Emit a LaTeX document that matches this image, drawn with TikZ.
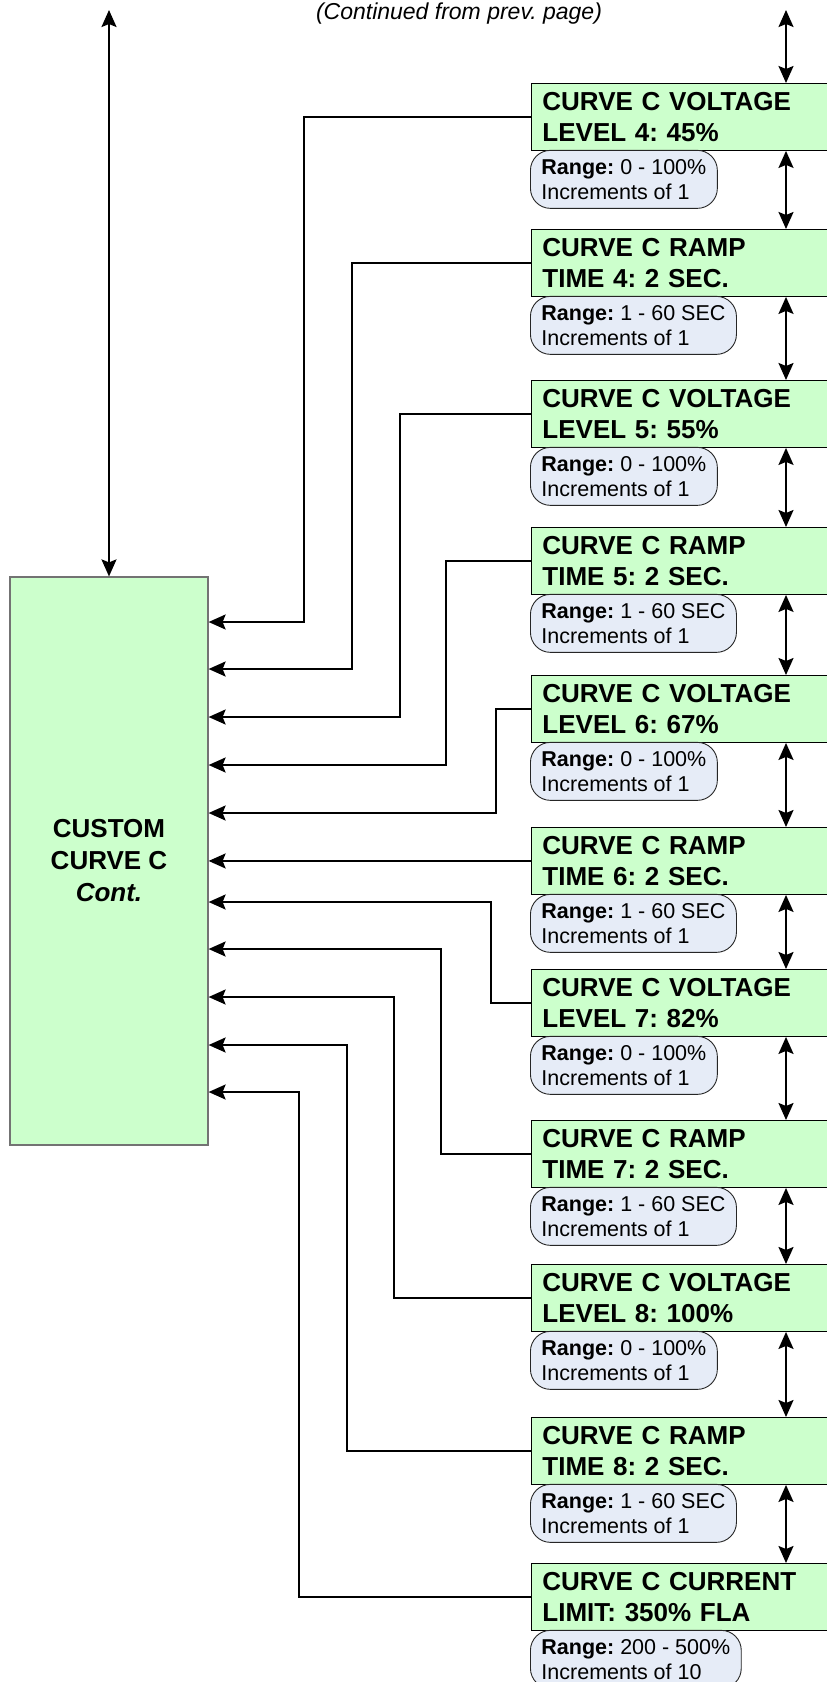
\documentclass[tikz,border=0pt]{standalone}
\usepackage{fontspec}
\setmainfont{Liberation Sans}
\usetikzlibrary{arrows.meta}
\definecolor{boxgreen}{HTML}{CCFFCC}
\definecolor{rangeblue}{HTML}{E6ECF7}
\frenchspacing

\begin{document}
\begin{tikzpicture}[
        x=1pt, y=-1pt,
        >={Stealth[length=17pt,width=15pt,inset=3pt]},
        setbox/.style={rectangle, draw=black, line width=0.9pt, fill=boxgreen, anchor=north west,
            text width=278pt, inner xsep=11pt, inner ysep=0pt, minimum height=67pt, align=left,
            font=\bfseries\fontsize{26}{31}\selectfont},
        rangebox/.style={rectangle, rounded corners=20pt, draw=black!85, line width=0.9pt, fill=rangeblue,
            anchor=north west, inner xsep=11pt, inner ysep=0pt, minimum height=58pt, align=left,
            font=\fontsize{21.5}{25}\selectfont},
        mainbox/.style={rectangle, draw=black!55, line width=1.2pt, fill=boxgreen,
            minimum width=198pt, minimum height=568pt, align=center,
            font=\bfseries\fontsize{26}{32}\selectfont},
        conn/.style={draw, line width=2pt, ->},
        updown/.style={draw, line width=2pt, <->}
        ]
        \useasboundingbox (0,0) rectangle (827,1682);

        \node[font=\itshape\fontsize{23}{27}\selectfont, inner sep=0pt] (cont) at (459,14) {(Continued from prev. page)};

        \node[mainbox] (cb) at (109,861) {CUSTOM\\CURVE C\\\textit{Cont.}};

        \node[setbox] (b1) at (531,83) {CURVE C VOLTAGE\\LEVEL 4: 45\%};
        \node[rangebox] (r1) at ([xshift=-1pt,yshift=1pt]b1.south west) {\textbf{Range:} 0 - 100\%\\Increments of 1};
        \node[setbox] (b2) at (531,229) {CURVE C RAMP\\TIME 4: 2 SEC.};
        \node[rangebox] (r2) at ([xshift=-1pt,yshift=1pt]b2.south west) {\textbf{Range:} 1 - 60 SEC\\Increments of 1};
        \node[setbox] (b3) at (531,380) {CURVE C VOLTAGE\\LEVEL 5: 55\%};
        \node[rangebox] (r3) at ([xshift=-1pt,yshift=1pt]b3.south west) {\textbf{Range:} 0 - 100\%\\Increments of 1};
        \node[setbox] (b4) at (531,527) {CURVE C RAMP\\TIME 5: 2 SEC.};
        \node[rangebox] (r4) at ([xshift=-1pt,yshift=1pt]b4.south west) {\textbf{Range:} 1 - 60 SEC\\Increments of 1};
        \node[setbox] (b5) at (531,675) {CURVE C VOLTAGE\\LEVEL 6: 67\%};
        \node[rangebox] (r5) at ([xshift=-1pt,yshift=1pt]b5.south west) {\textbf{Range:} 0 - 100\%\\Increments of 1};
        \node[setbox] (b6) at (531,827) {CURVE C RAMP\\TIME 6: 2 SEC.};
        \node[rangebox] (r6) at ([xshift=-1pt,yshift=1pt]b6.south west) {\textbf{Range:} 1 - 60 SEC\\Increments of 1};
        \node[setbox] (b7) at (531,969) {CURVE C VOLTAGE\\LEVEL 7: 82\%};
        \node[rangebox] (r7) at ([xshift=-1pt,yshift=1pt]b7.south west) {\textbf{Range:} 0 - 100\%\\Increments of 1};
        \node[setbox] (b8) at (531,1120) {CURVE C RAMP\\TIME 7: 2 SEC.};
        \node[rangebox] (r8) at ([xshift=-1pt,yshift=1pt]b8.south west) {\textbf{Range:} 1 - 60 SEC\\Increments of 1};
        \node[setbox] (b9) at (531,1264) {CURVE C VOLTAGE\\LEVEL 8: 100\%};
        \node[rangebox] (r9) at ([xshift=-1pt,yshift=1pt]b9.south west) {\textbf{Range:} 0 - 100\%\\Increments of 1};
        \node[setbox] (b10) at (531,1417) {CURVE C RAMP\\TIME 8: 2 SEC.};
        \node[rangebox] (r10) at ([xshift=-1pt,yshift=1pt]b10.south west) {\textbf{Range:} 1 - 60 SEC\\Increments of 1};
        \node[setbox] (b11) at (531,1563) {CURVE C CURRENT\\LIMIT: 350\% FLA};
        \node[rangebox] (r11) at ([xshift=-1pt,yshift=1pt]b11.south west) {\textbf{Range:} 200 - 500\%\\Increments of 10};

        % up and down the menu
        \coordinate (topl) at (109,10);
        \coordinate (topr) at (786,10);
        \draw[updown] (topl) -- (cb.north);
        \draw[updown] (topr) -- (topr |- b1.north);
        \draw[updown] (b1.south -| topr) -- (b2.north -| topr);
        \draw[updown] (b2.south -| topr) -- (b3.north -| topr);
        \draw[updown] (b3.south -| topr) -- (b4.north -| topr);
        \draw[updown] (b4.south -| topr) -- (b5.north -| topr);
        \draw[updown] (b5.south -| topr) -- (b6.north -| topr);
        \draw[updown] (b6.south -| topr) -- (b7.north -| topr);
        \draw[updown] (b7.south -| topr) -- (b8.north -| topr);
        \draw[updown] (b8.south -| topr) -- (b9.north -| topr);
        \draw[updown] (b9.south -| topr) -- (b10.north -| topr);
        \draw[updown] (b10.south -| topr) -- (b11.north -| topr);

        % back to the custom curve
        \draw[conn] (b1.west) -| (304,622) -- (cb.east |- 304,622);
        \draw[conn] (b2.west) -| (352,669) -- (cb.east |- 352,669);
        \draw[conn] (b3.west) -| (400,717) -- (cb.east |- 400,717);
        \draw[conn] (b4.west) -| (446,765) -- (cb.east |- 446,765);
        \draw[conn] (b5.west) -| (496,813) -- (cb.east |- 496,813);
        \draw[conn] (b6.west) -- (b6.west -| cb.east);
        \draw[conn] (b7.west) -| (491,902) -- (cb.east |- 491,902);
        \draw[conn] (b8.west) -| (441,949) -- (cb.east |- 441,949);
        \draw[conn] (b9.west) -| (394,997) -- (cb.east |- 394,997);
        \draw[conn] (b10.west) -| (347,1045) -- (cb.east |- 347,1045);
        \draw[conn] (b11.west) -| (299,1092) -- (cb.east |- 299,1092);
    \end{tikzpicture}
\end{document}
